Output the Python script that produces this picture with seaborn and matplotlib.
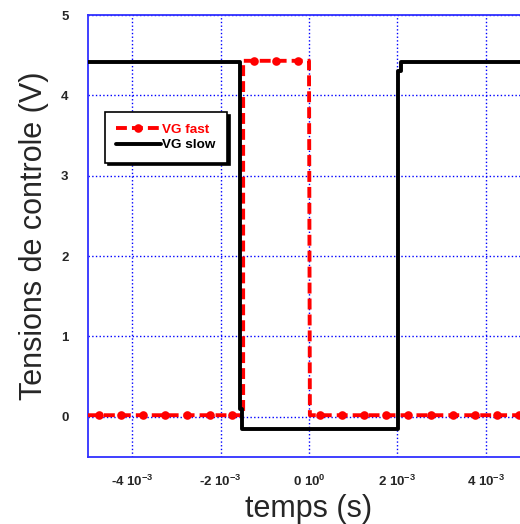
import matplotlib
matplotlib.use("Agg")
import matplotlib.pyplot as plt
import seaborn as sns
import pandas as pd
import numpy as np

# temps en ms (converti en s plus bas)
t_slow = [-5.0, -1.57, -1.57, -1.51, -1.51, 2.02, 2.02, 2.08, 2.08, 5.0]
v_slow = [4.41, 4.41, 0.10, 0.10, -0.15, -0.15, 4.30, 4.30, 4.41, 4.41]

t_fast = [-5.0, -4.75, -4.25, -3.75, -3.25, -2.75, -2.25, -1.75, -1.49,
          -1.49, -1.25, -0.75, -0.25, 0.0,
          0.02, 0.25, 0.75, 1.25, 1.75, 2.25, 2.75, 3.25, 3.75, 4.25, 4.75, 5.0]
v_fast = [0.02, 0.02, 0.02, 0.02, 0.02, 0.02, 0.02, 0.02, 0.02,
          4.43, 4.43, 4.43, 4.43, 4.43,
          0.02, 0.02, 0.02, 0.02, 0.02, 0.02, 0.02, 0.02, 0.02, 0.02, 0.02, 0.02]
fast_marks = [1, 2, 3, 4, 5, 6, 7, 10, 11, 12, 15, 16, 17, 18, 19, 20, 21, 22, 23, 24]

x_ticks = [-4, -2, 0, 2, 4]
x_labels = ['-4 10$^{-3}$', '-2 10$^{-3}$', '0 10$^{0}$', '2 10$^{-3}$', '4 10$^{-3}$']
y_ticks = [0, 1, 2, 3, 4, 5]

sns.set_theme(style="white")
plt.rcParams['font.family'] = ['Liberation Sans', 'DejaVu Sans']
plt.rcParams['mathtext.fontset'] = 'custom'
plt.rcParams['mathtext.rm'] = 'Liberation Sans:bold'
plt.rcParams['mathtext.it'] = 'Liberation Sans:bold'
plt.rcParams['mathtext.bf'] = 'Liberation Sans:bold'

df_fast = pd.DataFrame({'t': np.array(t_fast) * 1e-3, 'v': v_fast})
df_slow = pd.DataFrame({'t': np.array(t_slow) * 1e-3, 'v': v_slow})

fig = plt.figure(figsize=(5.2, 5.24), dpi=100)
ax = fig.add_axes([88 / 520, 67 / 524, 442 / 520, 442 / 524])

sns.lineplot(data=df_fast, x='t', y='v', sort=False, estimator=None, ax=ax,
             color='red', lw=2.8, dashes=False, label='VG fast', zorder=3,
             marker='o', markersize=6.2, markevery=fast_marks, markeredgewidth=0)
ax.lines[-1].set_linestyle((0, (2.8, 1.3)))
sns.lineplot(data=df_slow, x='t', y='v', sort=False, estimator=None, ax=ax,
             color='black', lw=2.8, label='VG slow', zorder=4)

ax.set_xlim(-5e-3, 5e-3)
ax.set_ylim(-0.5, 5)
ax.set_xticks(np.array(x_ticks) * 1e-3)
ax.set_xticklabels(x_labels, fontweight='bold', fontsize=9.5)
ax.set_yticks(y_ticks)
ax.set_yticklabels([str(v) for v in y_ticks], fontweight='bold', fontsize=9.5)
ax.tick_params(direction='in', color='#2020ff', length=5, width=1, pad=12)
ax.tick_params(axis='y', pad=14)

ax.grid(True, color='#0000ff', linestyle=':', lw=1)
for side in ['left', 'bottom', 'top', 'right']:
    ax.spines[side].set_color('#3030ff')
    ax.spines[side].set_linewidth(1.3)

ax.set_xlabel('temps (s)', fontsize=22, labelpad=4)
ax.set_ylabel('Tensions de controle (V)', fontsize=22, labelpad=9)

leg = ax.legend(loc='upper left', bbox_to_anchor=(0.038, 0.78), borderaxespad=0,
                fancybox=False, shadow={'color': 'black', 'alpha': 1}, framealpha=1,
                edgecolor='black', handlelength=3.3, handletextpad=0.1,
                prop={'weight': 'bold', 'size': 9.7}, labelcolor='linecolor',
                borderpad=0.85, labelspacing=0.2)
leg.get_frame().set_linewidth(1.2)

plt.savefig('out.png', dpi=100)
